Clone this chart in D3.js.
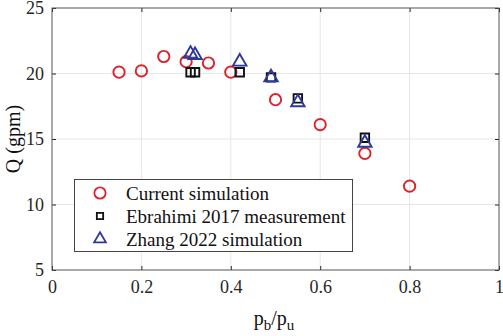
<!DOCTYPE html>
<html><head><meta charset="utf-8">
<script src="https://cdn.jsdelivr.net/npm/d3@7"></script>
<style>body{margin:0;background:#fff}svg{display:block}</style>
</head><body><svg id="c" width="503" height="336"></svg>
<script>
const currentX = [0.15,0.2,0.25,0.3,0.35,0.4,0.5,0.6,0.7,0.8];
const currentQ = [20.1,20.2,21.3,20.9,20.8,20.1,18.0,16.1,13.9,11.4];
const ebrahimiX = [0.31,0.32,0.42,0.49,0.55,0.7];
const ebrahimiQ = [20.1,20.1,20.1,19.7,18.1,15.1];
const zhangX = [0.31,0.32,0.42,0.49,0.55,0.7];
const zhangQ = [21.5,21.4,20.9,19.7,17.8,14.7];
const xTicks = [0,0.2,0.4,0.6,0.8,1];
const yTicks = [5,10,15,20,25];
const seriesNames = ["Current simulation","Ebrahimi 2017 measurement","Zhang 2022 simulation"];

const FONT='Liberation Serif';
const svg = d3.select("#c");
const L=52,R=499,T=8,B=270;
const x = d3.scaleLinear().domain([0,1]).range([L,R]);
const y = d3.scaleLinear().domain([5,25]).range([B,T]);
const axisCol="#262626", fs=18;

svg.append("g").selectAll("line").data(xTicks.slice(1,-1)).join("line")
  .attr("x1",d=>x(d)).attr("x2",d=>x(d)).attr("y1",T).attr("y2",B)
  .attr("stroke","#e6e6e6").attr("stroke-width",1);
svg.append("g").selectAll("line").data(yTicks.slice(1,-1)).join("line")
  .attr("y1",d=>y(d)).attr("y2",d=>y(d)).attr("x1",L).attr("x2",R)
  .attr("stroke","#e6e6e6").attr("stroke-width",1);

function styleAxis(g){g.attr("font-family",FONT).attr("font-size",fs);g.select(".domain").remove();g.selectAll("line").attr("stroke",axisCol);
  g.selectAll("text").attr("fill",axisCol);}
svg.append("g").attr("transform",`translate(0,${B})`)
  .call(d3.axisBottom(x).tickValues(xTicks).tickFormat(d3.format("~g")).tickSizeInner(-4).tickSizeOuter(0).tickPadding(10))
  .call(styleAxis);
svg.append("g").attr("transform",`translate(0,${T})`)
  .call(d3.axisTop(x).tickValues(xTicks).tickFormat("").tickSizeInner(-4).tickSizeOuter(0)).call(styleAxis);
svg.append("g").attr("transform",`translate(${L},0)`)
  .call(d3.axisLeft(y).tickValues(yTicks).tickSizeInner(-4).tickSizeOuter(0).tickPadding(8))
  .call(styleAxis);
svg.append("g").attr("transform",`translate(${R},0)`)
  .call(d3.axisRight(y).tickValues(yTicks).tickFormat("").tickSizeInner(-4).tickSizeOuter(0)).call(styleAxis);
svg.append("rect").attr("x",L).attr("y",T).attr("width",R-L).attr("height",B-T)
  .attr("fill","none").attr("stroke","#555").attr("stroke-width",1);

const red="#e0202a", blk="#111", blu="#2e3a99";
const circ=d3.symbol().type(d3.symbolCircle).size(100);
const sq=d3.symbol().type(d3.symbolSquare).size(72);
const tri=d3.symbol().type(d3.symbolTriangle).size(78);

const pts = svg.append("g");
pts.selectAll(".c").data(d3.zip(currentX,currentQ)).join("path").attr("class","c")
  .attr("d",circ).attr("transform",d=>`translate(${x(d[0])},${y(d[1])})`)
  .attr("fill","none").attr("stroke",red).attr("stroke-width",1.9);
pts.selectAll(".s").data(d3.zip(ebrahimiX,ebrahimiQ)).join("path").attr("class","s")
  .attr("d",sq).attr("transform",d=>`translate(${x(d[0])},${y(d[1])})`)
  .attr("fill","none").attr("stroke",blk).attr("stroke-width",1.9);
pts.selectAll(".t").data(d3.zip(zhangX,zhangQ)).join("path").attr("class","t")
  .attr("d",tri).attr("transform",d=>`translate(${x(d[0])},${y(d[1])})`)
  .attr("fill","none").attr("stroke",blu).attr("stroke-width",1.9);

const lg = svg.append("g").attr("font-family",FONT).attr("font-size",19);
lg.append("rect").attr("x",74.5).attr("y",179.5).attr("width",278).attr("height",72)
  .attr("fill","#fff").attr("stroke","#444").attr("stroke-width",1);
const syms=[[circ,red],[d3.symbol().type(d3.symbolSquare).size(40),blk],[d3.symbol().type(d3.symbolTriangle).size(60),blu]];
seriesNames.forEach((n,i)=>{
  const cy=193+i*23;
  lg.append("path").attr("d",syms[i][0]).attr("transform",`translate(100,${cy})`)
    .attr("fill","none").attr("stroke",syms[i][1]).attr("stroke-width",1.8);
  lg.append("text").attr("x",126).attr("y",cy).attr("dy","0.35em").attr("fill","#111").text(n);
});

const xl = svg.append("text").attr("x",274).attr("y",325).attr("text-anchor","middle").attr("font-family",FONT).attr("font-size",20).attr("fill","#111");
xl.append("tspan").text("p");
xl.append("tspan").attr("font-size",15).attr("dy",5).text("b");
xl.append("tspan").attr("dy",-5).text("/p");
xl.append("tspan").attr("font-size",15).attr("dy",5).text("u");
svg.append("text").attr("transform",`translate(20,${y(15)}) rotate(-90)`).attr("text-anchor","middle")
  .attr("font-family",FONT).attr("font-size",20).attr("fill","#111").text("Q (gpm)");
</script></body></html>
